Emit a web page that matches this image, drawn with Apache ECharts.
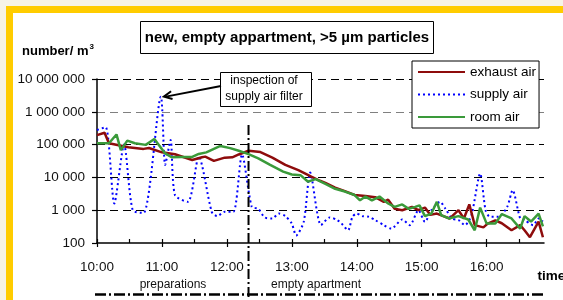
<!DOCTYPE html>
<html>
<head>
<meta charset="utf-8">
<script src="https://cdn.jsdelivr.net/npm/echarts@6/dist/echarts.min.js"></script>
<style>
  html, body { margin: 0; padding: 0; width: 563px; height: 300px; overflow: hidden; background: #f6f3e6; }
  .yellow { position: absolute; left: 6px; top: 6px; width: 700px; height: 500px; background: #ffcc00; }
  .white { position: absolute; left: 13px; top: 13px; width: 700px; height: 500px; background: #ffffff; }
  #chart { position: absolute; left: 0; top: 0; width: 563px; height: 300px; }
</style>
</head>
<body>
<div class="yellow"></div>
<div class="white"></div>
<div id="chart"></div>
<script>
// ---- data (time in minutes after 10:00, values in particles / m3) ----
const exhaustTime = [0,7,11,29,43,48,60,72,88,97,100,108,118,125,131,140,151,162,174,186,198,206,211,220,229,238,248,257,265,269,275,282,291,297,303,308,314,320,326,334,339,344,349,357,361,368,374,383,391,395,400,408,412];
const exhaustVal = [195000,229000,110000,83000,74000,79000,58000,51000,34000,41000,43000,32000,40000,41000,50000,65000,59000,40000,24000,16600,10500,7900,6800,4900,3800,2900,2700,2500,1800,2100,1100,1000,1260,1000,1200,720,790,660,560,1000,560,1500,350,300,390,490,400,245,350,245,150,450,150];

const supplyTime = [0,8,16,25,33,43,59,63,68,72,84,94,106,111,118,126,134,143,149,155,162,168,174,180,184,191,197,207,215,222,226,232,236,240,245,251,257,265,272,282,289,297,303,309,317,322,328,334,340,346,354,359,363,371,379,384,391,395,403,408,412];
const supplyVal = [280000,340000,1600,100000,1000,830,2900000,24000,138000,2900,1800,43000,890,660,890,890,50000,1260,1100,600,560,790,660,390,170,440,14000,350,600,500,390,245,630,790,660,630,500,350,275,520,350,1000,440,1000,1800,1100,560,500,350,710,13000,1000,630,630,1260,4100,560,500,350,560,450];

const roomTime = [0,11,18,22,28,35,45,53,63,69,78,88,94,101,114,123,131,140,149,160,172,180,188,195,202,211,220,229,238,243,248,254,261,269,275,282,288,294,298,303,309,314,318,325,334,343,349,354,360,368,374,383,391,395,401,408,412];
const roomVal = [110000,110000,204000,68000,132000,110000,98000,148000,54000,41000,42000,42000,52000,58000,91000,78000,65000,51000,38000,24000,15000,12300,11700,7400,8900,6300,4500,3700,2900,2000,2600,2000,2600,1600,1260,1500,1100,1260,1400,660,790,1800,710,560,660,520,245,1200,390,390,760,560,275,660,450,790,320];

const seriesNames = ['exhaust air', 'supply air', 'room air'];
const hourTicks = [0, 60, 120, 180, 240, 300, 360];
const halfHourTicks = [0, 30, 60, 90, 120, 150, 180, 210, 240, 270, 300, 330, 360, 390];
const timeMax = 413;
const phaseSwitch = 140;          // 12:20 end of preparations
const inspectionPoint = [59, 2900000];

function pairs(t, v) { return t.map((x, i) => [x, v[i]]); }
function hhmm(m) { const h = 10 + Math.floor(m / 60); const mm = m % 60; return h + ':' + (mm < 10 ? '0' : '') + mm; }
function spaced(v) { return String(Math.round(v)).replace(/\B(?=(\d{3})+(?!\d))/g, ' '); }

const FONT = 'Liberation Sans';
const chart = echarts.init(document.getElementById('chart'), null, { renderer: 'canvas' });

const option = {
  animation: false,
  textStyle: { fontFamily: FONT },
  grid: { left: 97, right: 19, top: 79, bottom: 57, containLabel: false },
  legend: {
    orient: 'vertical', left: 412, top: 61,
    itemWidth: 47, itemHeight: 14, itemGap: 8.5,
    padding: [4, 3, 4, 5],
    backgroundColor: '#fff', borderColor: '#000', borderWidth: 1,
    itemStyle: { opacity: 0 },
    textStyle: { fontSize: 13.5, color: '#000', fontFamily: FONT, lineHeight: 14 },
    data: seriesNames
  },
  xAxis: [{
    type: 'value', min: 0, max: timeMax,
    axisLine: { show: true, onZero: false, lineStyle: { color: '#000', width: 1.5 } },
    axisTick: { show: true, inside: true, length: 4, customValues: halfHourTicks, lineStyle: { color: '#000', width: 1.2 } },
    axisLabel: { customValues: hourTicks, formatter: v => hhmm(v), fontSize: 13.5, color: '#111', margin: 17, fontFamily: FONT },
    splitLine: { show: false }
  }, {
    type: 'value', min: 0, max: timeMax, position: 'bottom', gridIndex: 0,
    axisLine: { show: false },
    axisTick: { show: true, inside: false, length: 4, customValues: hourTicks, lineStyle: { color: '#000', width: 1.2 } },
    axisLabel: { show: false },
    splitLine: { show: false }
  }],
  yAxis: {
    type: 'log', logBase: 10, min: 100, max: 10000000,
    axisLine: { show: true, onZero: false, lineStyle: { color: '#000', width: 1.5 } },
    axisTick: { show: true, inside: false, length: 5, lineStyle: { color: '#000', width: 1.2 } },
    axisLabel: { formatter: v => spaced(v), fontSize: 13.5, color: '#111', margin: 12, fontFamily: FONT },
    splitLine: { show: true, showMinLine: false,
      lineStyle: { color: ['#000', '#000', '#000', '#808080', '#000'], type: [8, 5], width: 1.2 } }
  },
  series: [{
    name: seriesNames[0], type: 'line', data: pairs(exhaustTime, exhaustVal),
    symbol: 'none', showSymbol: false, xAxisIndex: 0,
    lineStyle: { color: '#8e0c0c', width: 2.5 }, itemStyle: { color: '#8e0c0c' }, z: 3
  }, {
    name: seriesNames[1], type: 'line', data: pairs(supplyTime, supplyVal),
    symbol: 'none', showSymbol: false, smooth: 0.25, xAxisIndex: 0,
    lineStyle: { color: '#0000ff', width: 2, type: [2, 3] }, itemStyle: { color: '#0000ff' }, z: 2
  }, {
    name: seriesNames[2], type: 'line', data: pairs(roomTime, roomVal),
    symbol: 'none', showSymbol: false, xAxisIndex: 0,
    lineStyle: { color: '#3a9a3a', width: 2.5 }, itemStyle: { color: '#3a9a3a' }, z: 4
  }]
};
chart.setOption(option);

// ---- annotations positioned from the axes ----
const vx = chart.convertToPixel({ xAxisIndex: 0, yAxisIndex: 0 }, [phaseSwitch, 100000])[0];
const tip = chart.convertToPixel({ xAxisIndex: 0, yAxisIndex: 0 }, inspectionPoint);
const tipX = tip[0] + 3, tipY = tip[1];
const tailX = 221, tailY = 86;
const ang = Math.atan2(tailY - tipY, tailX - tipX);
const hl = 9, hw = 0.45;
const head = [
  [tipX + hl * Math.cos(ang - hw), tipY + hl * Math.sin(ang - hw)],
  [tipX, tipY],
  [tipX + hl * Math.cos(ang + hw), tipY + hl * Math.sin(ang + hw)]
];

chart.setOption({
  graphic: [
    { type: 'rect', shape: { x: 140.5, y: 21.5, width: 293, height: 32 }, style: { fill: '#fff', stroke: '#000', lineWidth: 1 }, z: 10 },
    { type: 'text', x: 287, y: 37.5, style: { text: 'new, empty appartment, >5 µm particles', font: 'bold 15px "Liberation Sans"', fill: '#000', align: 'center', verticalAlign: 'middle' }, z: 11 },
    { type: 'text', x: 22, y: 51, style: { text: '{a|number/ m}{s|3}', rich: { a: { font: 'bold 13px "Liberation Sans"', fill: '#000' }, s: { font: 'bold 8px "Liberation Sans"', fill: '#000', verticalAlign: 'top', padding: [0, 0, 8, 1] } }, verticalAlign: 'middle' }, z: 11 },
    { type: 'rect', shape: { x: 220.5, y: 72.5, width: 91, height: 34 }, style: { fill: '#fff', stroke: '#000', lineWidth: 1 }, z: 10 },
    { type: 'text', x: 264, y: 81, style: { text: 'inspection of', font: '12px "Liberation Sans"', fill: '#000', align: 'center', verticalAlign: 'middle' }, z: 11 },
    { type: 'text', x: 264, y: 97, style: { text: 'supply air filter', font: '12px "Liberation Sans"', fill: '#000', align: 'center', verticalAlign: 'middle' }, z: 11 },
    { type: 'line', shape: { x1: tailX, y1: tailY, x2: tipX + 2, y2: tipY }, style: { stroke: '#000', lineWidth: 2 }, z: 11 },
    { type: 'polyline', shape: { points: head }, style: { stroke: '#000', lineWidth: 2, fill: null }, z: 11 },
    { type: 'line', shape: { x1: vx, y1: 125, x2: vx, y2: 300 }, style: { stroke: '#000', lineWidth: 2, lineDash: [10, 3, 2, 3] }, z: 9 },
    { type: 'line', shape: { x1: 95, y1: 294.5, x2: 546, y2: 294.5 }, style: { stroke: '#000', lineWidth: 2.5, lineDash: [11, 3, 2, 3] }, z: 9 },
    { type: 'text', x: 173, y: 285, style: { text: 'preparations', font: '12px "Liberation Sans"', fill: '#111', align: 'center', verticalAlign: 'middle' }, z: 11 },
    { type: 'text', x: 316, y: 285, style: { text: 'empty apartment', font: '12px "Liberation Sans"', fill: '#111', align: 'center', verticalAlign: 'middle' }, z: 11 },
    { type: 'text', x: 537.5, y: 276, style: { text: 'time', font: 'bold 13.5px "Liberation Sans"', fill: '#000', align: 'left', verticalAlign: 'middle' }, z: 11 }
  ]
});
</script>
</body>
</html>
